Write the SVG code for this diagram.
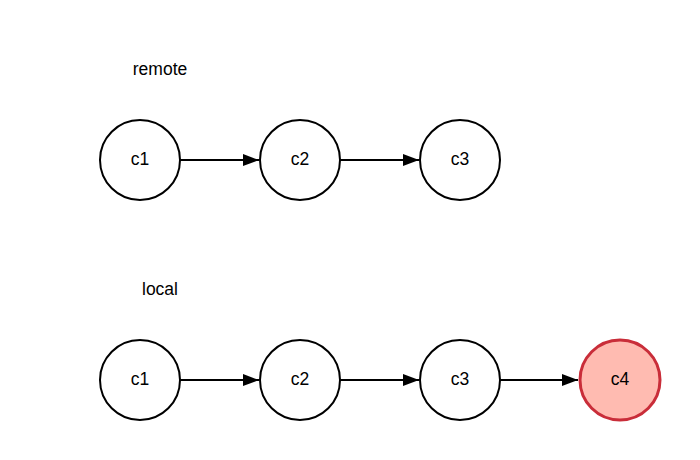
<svg xmlns="http://www.w3.org/2000/svg" width="700" height="460" viewBox="0 0 700 460">
  <style>
    text { font-family: "Liberation Sans", Arial, sans-serif; font-size: 17.5px; fill: #000; }
    .lbl { text-anchor: middle; dominant-baseline: central; }
    .commit { fill: #fff; stroke: #000; stroke-width: 2; }
    .commit.new { fill: #ffbbb1; stroke: #c92d39; stroke-width: 3; }
    .edge { stroke: #000; stroke-width: 2; fill: none; marker-end: url(#arrow); }
  </style>
  <defs>
    <marker id="arrow" markerWidth="16" markerHeight="12" refX="16" refY="6" orient="auto" markerUnits="userSpaceOnUse">
      <path d="M0,0 L16,6 L0,12 Z" fill="#000"/>
    </marker>
  </defs>
  <rect width="700" height="460" fill="#fff"/>

  <text x="160" y="69" class="lbl">remote</text>
  <text x="160" y="289" class="lbl">local</text>

  <g id="connectors">
    <line class="edge" x1="180" y1="160" x2="259" y2="160"/>
    <line class="edge" x1="340" y1="160" x2="419" y2="160"/>
    <line class="edge" x1="180" y1="380" x2="259" y2="380"/>
    <line class="edge" x1="340" y1="380" x2="419" y2="380"/>
    <line class="edge" x1="500" y1="380" x2="578" y2="380"/>
  </g>

  <g id="remote-c1"><circle class="commit" cx="140" cy="160" r="40"/><text x="140" y="159" class="lbl">c1</text></g>
  <g id="remote-c2"><circle class="commit" cx="300" cy="160" r="40"/><text x="300" y="159" class="lbl">c2</text></g>
  <g id="remote-c3"><circle class="commit" cx="460" cy="160" r="40"/><text x="460" y="159" class="lbl">c3</text></g>

  <g id="local-c1"><circle class="commit" cx="140" cy="380" r="40"/><text x="140" y="379" class="lbl">c1</text></g>
  <g id="local-c2"><circle class="commit" cx="300" cy="380" r="40"/><text x="300" y="379" class="lbl">c2</text></g>
  <g id="local-c3"><circle class="commit" cx="460" cy="380" r="40"/><text x="460" y="379" class="lbl">c3</text></g>
  <g id="local-c4"><circle class="commit new" cx="620" cy="380" r="40"/><text x="620" y="379" class="lbl">c4</text></g>
</svg>
